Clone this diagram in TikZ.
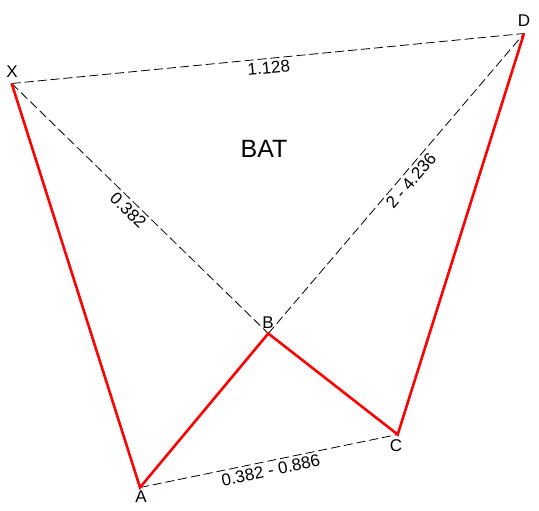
\documentclass[tikz,border=0pt]{standalone}
\usepackage{fontspec}
\setmainfont{Liberation Sans}
\usetikzlibrary{positioning}

\tikzset{
  leg/.style={red,line width=2.6pt,line join=miter},
  ratioline/.style={black,line width=0.8pt,dash pattern=on 9pt off 4pt},
  ratio/.style={font=\fontsize{17}{20}\selectfont,sloped,below,inner sep=3pt},
  ptlabel/.style={font=\fontsize{17}{20}\selectfont,inner sep=0pt}
}

\begin{document}
\begin{tikzpicture}[x=1pt,y=-1pt]
    \useasboundingbox (0,0) rectangle (539,511);
    % pattern points
    \coordinate (X) at (11.7,83.5);
    \coordinate (A) at (140,487.5);
    \coordinate (B) at (268.3,333.5);
    \coordinate (C) at (397.7,434.5);
    \coordinate (D) at (524,33.5);

    % ratio lines
    \draw[ratioline] (X) -- node[ratio,pos=0.5] (rXD) {1.128} (D);
    \draw[ratioline] (X) -- node[ratio,pos=0.48] (rXB) {0.382} (B);
    \draw[ratioline] (B) -- node[ratio,pos=0.53] (rBD) {2 - 4.236} (D);
    \draw[ratioline] (A) -- node[ratio,pos=0.5] (rAC) {0.382 - 0.886} (C);

    % legs
    \draw[leg] (X) -- (A) -- (B) -- (C) -- (D);

    % point labels
    \node[ptlabel] (lX) at (12,72) {X};
    \node[ptlabel] (lD) at (524,21) {D};
    \node[ptlabel] (lB) at (268,323) {B};
    \node[ptlabel] (lA) at (141,497) {A};
    \node[ptlabel] (lC) at (396,446) {C};

    \node[font=\fontsize{25}{30}\selectfont] (title) at (264,149) {BAT};
  \end{tikzpicture}
\end{document}
